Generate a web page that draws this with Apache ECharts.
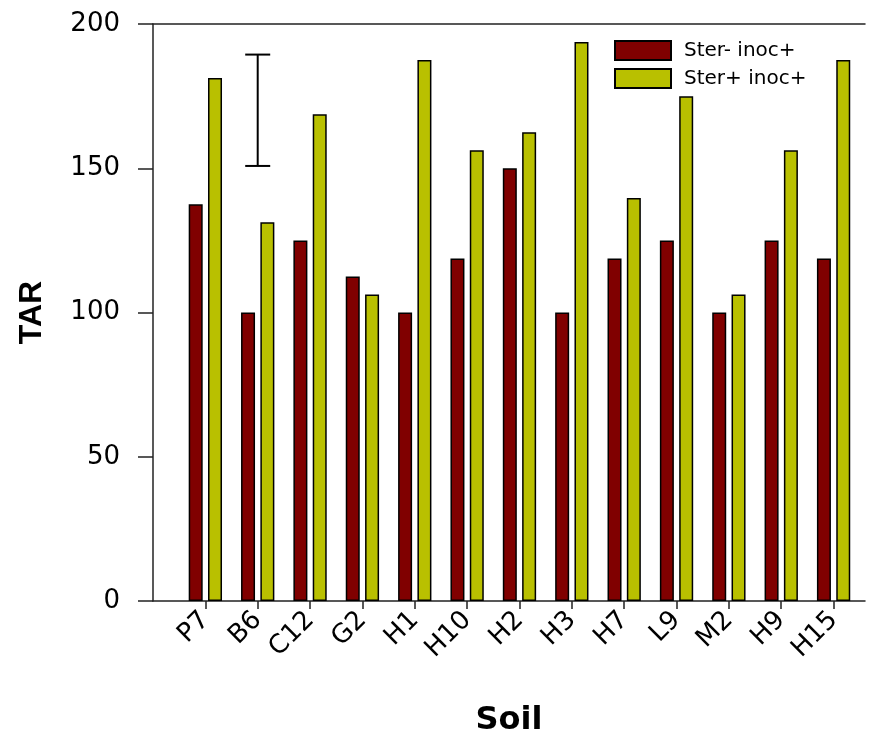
<!DOCTYPE html>
<html>
<head>
<meta charset="utf-8">
<script src="https://cdn.jsdelivr.net/npm/echarts@6/dist/echarts.min.js"></script>
<style>
html,body{margin:0;padding:0;background:#fff;}
#chart{width:875px;height:738px;}
</style>
</head>
<body>
<div id="chart"></div>
<script>
const categories = ['P7','B6','C12','G2','H1','H10','H2','H3','H7','L9','M2','H9','H15'];
const sterMinusInoc = [137.5,100,125,112.5,100,118.75,150,100,118.75,125,100,125,118.75];
const sterPlusInoc = [181.25,131.25,168.75,106.25,187.5,156.25,162.5,193.75,139.7,175,106.25,156.25,187.5];
const seriesNames = ['Ster- inoc+','Ster+ inoc+'];
const errorBarCategory = 'B6';
const errorBarLow = 150.8;
const errorBarHigh = 189.4;
const yTickValues = [0,50,100,150,200];

const xPos = categories.map((c,i)=>i+1);
const wideFont = '"DejaVu Sans", "Liberation Sans", sans-serif';
const arialFont = '"Liberation Sans", Arial, sans-serif';

const chart = echarts.init(document.getElementById('chart'), null, {renderer:'canvas'});
const ebX = categories.indexOf(errorBarCategory)+1;

const option = {
  animation:false,
  backgroundColor:'#fff',
  grid:{left:153, top:24, right:10, bottom:137, containLabel:false, outerBoundsMode:'none'},
  legend:{
    orient:'vertical', left:614, top:40, itemWidth:56, itemHeight:19, itemGap:7,
    padding:0, icon:'rect',
    textStyle:{fontFamily:wideFont, fontSize:20, color:'#000', padding:[0,0,0,8]},
    data:seriesNames
  },
  xAxis:[{
    type:'value', min:0, max:13.6, interval:1,
    name:'Soil', nameLocation:'middle', nameGap:104,
    nameTextStyle:{fontFamily:wideFont, fontSize:32, fontWeight:'bold', color:'#000'},
    axisLine:{show:true, lineStyle:{color:'#222', width:1.5}},
    axisTick:{show:true, length:8, customValues:xPos, lineStyle:{color:'#222', width:1.5}},
    axisLabel:{show:true, rotate:45, margin:15, customValues:xPos,
      fontFamily:wideFont, fontSize:26, color:'#000',
      formatter:v=>categories[Math.round(v)-1] || ''},
    splitLine:{show:false}
  },{
    type:'value', min:0, max:13.6, position:'top',
    axisLine:{show:true, onZero:false, lineStyle:{color:'#222', width:1.5}},
    axisTick:{show:false}, axisLabel:{show:false}, splitLine:{show:false}
  }],
  yAxis:{
    type:'value', min:0, max:200, interval:50,
    name:'TAR', nameLocation:'middle', nameGap:105, nameRotate:90,
    nameTextStyle:{fontFamily:arialFont, fontSize:32, fontWeight:'bold', color:'#000'},
    axisLine:{show:true, lineStyle:{color:'#222', width:1.5}},
    axisTick:{show:true, length:15, customValues:yTickValues, lineStyle:{color:'#222', width:1.5}},
    axisLabel:{margin:33, fontFamily:wideFont, fontSize:26, color:'#000', customValues:yTickValues},
    splitLine:{show:false}
  },
  series:[{
    name:seriesNames[0], type:'bar', xAxisIndex:0, barWidth:14, barGap:'38%',
    itemStyle:{color:'#800000', borderColor:'#000', borderWidth:1.5},
    data:sterMinusInoc.map((v,i)=>[xPos[i], v])
  },{
    name:seriesNames[1], type:'bar', xAxisIndex:0, barWidth:14, barGap:'38%',
    itemStyle:{color:'#b9c000', borderColor:'#000', borderWidth:1.5},
    data:sterPlusInoc.map((v,i)=>[xPos[i], v])
  },{
    type:'custom', xAxisIndex:0, silent:true, z:5,
    encode:{x:0, y:[1,2]},
    data:[[ebX, errorBarLow, errorBarHigh]],
    renderItem:(params, api)=>{
      const lo = api.coord([api.value(0), api.value(1)]);
      const hi = api.coord([api.value(0), api.value(2)]);
      const hw = 12.5;
      const st = {stroke:'#000', lineWidth:2};
      return {type:'group', children:[
        {type:'line', shape:{x1:lo[0], y1:lo[1], x2:hi[0], y2:hi[1]}, style:st},
        {type:'line', shape:{x1:lo[0]-hw, y1:lo[1], x2:lo[0]+hw, y2:lo[1]}, style:st},
        {type:'line', shape:{x1:hi[0]-hw, y1:hi[1], x2:hi[0]+hw, y2:hi[1]}, style:st}
      ]};
    }
  }]
};
chart.setOption(option);
</script>
</body>
</html>
